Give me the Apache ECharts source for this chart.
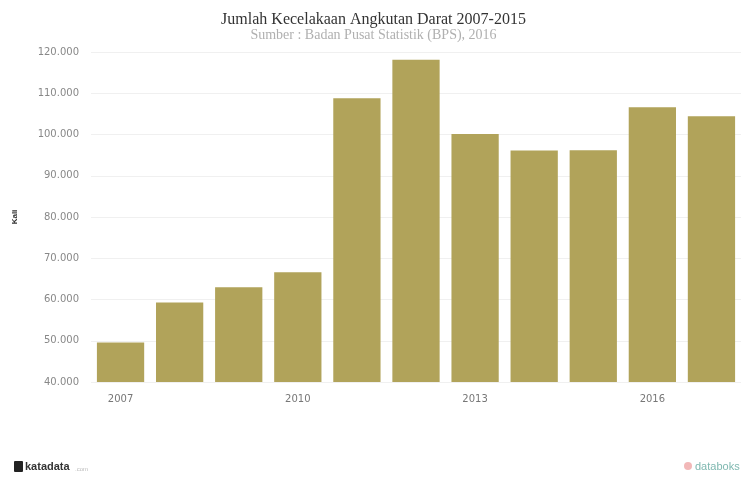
<!DOCTYPE html>
<html>
<head>
<meta charset="utf-8">
<script src="https://cdn.jsdelivr.net/npm/echarts@6/dist/echarts.min.js"></script>
<style>html,body{margin:0;padding:0;background:#fff}#c{width:747px;height:477px}</style>
</head>
<body>
<div id="c"></div>
<script>
var categories = ['2007','2008','2009','2010','2011','2012','2013','2014','2015','2016','2017'];
var values = [49600, 59300, 63000, 66600, 108800, 118100, 100100, 96100, 96200, 106600, 104400];
var yTicks = [40000, 120000, 10000];

var chart = echarts.init(document.getElementById('c'));
chart.setOption({
  animation: false,
  backgroundColor: '#fff',
  title: {
    text: 'Jumlah Kecelakaan Angkutan Darat 2007-2015',
    subtext: 'Sumber : Badan Pusat Statistik (BPS), 2016',
    left: 'center',
    top: 7,
    itemGap: 0,
    textStyle: {fontFamily: 'Liberation Serif', fontSize: 16, fontWeight: 'normal', color: '#333'},
    subtextStyle: {fontFamily: 'Liberation Serif', fontSize: 14, color: '#b0b0b0'}
  },
  grid: {left: 91, right: 6, top: 52, bottom: 95},
  xAxis: {
    type: 'category',
    data: categories,
    axisLine: {show: false},
    axisTick: {show: false},
    axisLabel: {interval: 2, color: '#777', fontSize: 10, margin: 12, fontFamily: 'DejaVu Sans'}
  },
  yAxis: {
    type: 'value',
    min: yTicks[0], max: yTicks[1], interval: yTicks[2],
    name: 'Kali',
    nameLocation: 'middle',
    nameGap: 72,
    nameRotate: 90,
    nameTextStyle: {fontSize: 8, fontWeight: 'bold', color: '#333'},
    axisLine: {show: false},
    axisTick: {show: false},
    axisLabel: {
      color: '#888', fontSize: 10, margin: 12, fontFamily: 'DejaVu Sans',
      formatter: function (v) { return v.toLocaleString('de-DE'); }
    },
    splitLine: {lineStyle: {color: '#f0f0f0'}}
  },
  series: [{
    type: 'bar',
    data: values,
    barWidth: '80%',
    itemStyle: {color: '#b1a35a'}
  }],
  graphic: [
    {type: 'rect', left: 14, top: 461, shape: {width: 9, height: 11, r: 1}, style: {fill: '#222'}},
    {type: 'text', left: 25, top: 461, style: {text: 'katadata', font: 'bold 11px Liberation Sans', fill: '#333'}},
    {type: 'text', left: 75, top: 466, style: {text: '.com', font: '6px Liberation Sans', fill: '#bbb'}},
    {type: 'circle', left: 684, top: 462, shape: {r: 4}, style: {fill: '#f2b8b8'}},
    {type: 'text', left: 695, top: 461, style: {text: 'databoks', font: '11px Liberation Sans', fill: '#7fb8b0'}}
  ]
});
</script>
</body>
</html>
